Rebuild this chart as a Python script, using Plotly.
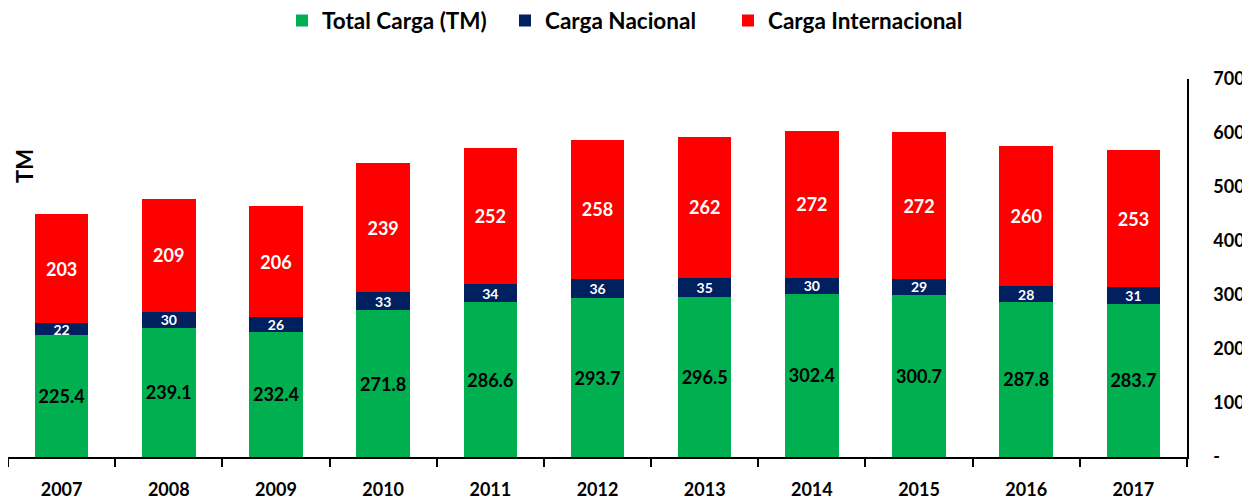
import plotly.graph_objects as go

years = ["2007", "2008", "2009", "2010", "2011", "2012", "2013", "2014", "2015", "2016", "2017"]
total_carga = [225.4, 239.1, 232.4, 271.8, 286.6, 293.7, 296.5, 302.4, 300.7, 287.8, 283.7]
carga_nacional = [22, 30, 26, 33, 34, 36, 35, 30, 29, 28, 31]
carga_internacional = [203, 209, 206, 239, 252, 258, 262, 272, 272, 260, 253]
y_tickvals = [0, 100, 200, 300, 400, 500, 600, 700]
y_ticktext = ["-", "100", "200", "300", "400", "500", "600", "700"]

FONT = "Lato"

fig = go.Figure()
fig.add_trace(go.Bar(
    x=years, y=total_carga, name="Total Carga (TM)", legend="legend",
    marker=dict(color="#00B050", line=dict(width=0)),
    text=[f"{v:.1f}" for v in total_carga], textposition="inside",
    insidetextanchor="middle", constraintext="none", textangle=0,
    textfont=dict(family=FONT, size=18, color="black", weight="bold"),
))
fig.add_trace(go.Bar(
    x=years, y=carga_nacional, name="Carga Nacional", legend="legend2",
    marker=dict(color="#002060", line=dict(width=0)),
    text=[str(v) for v in carga_nacional], textposition="inside",
    insidetextanchor="middle", constraintext="none", textangle=0,
    textfont=dict(family=FONT, size=14, color="white", weight="bold"),
))
fig.add_trace(go.Bar(
    x=years, y=carga_internacional, name="Carga Internacional", legend="legend3",
    marker=dict(color="#FF0000", line=dict(width=0)),
    text=[str(v) for v in carga_internacional], textposition="inside",
    insidetextanchor="middle", constraintext="none", textangle=0,
    textfont=dict(family=FONT, size=18, color="white", weight="bold"),
))

legend_common = dict(
    orientation="h", xref="container", xanchor="left",
    yref="container", y=0.974, yanchor="middle",
    font=dict(family=FONT, size=22.5, color="black", weight="bold"),
    itemwidth=30, bgcolor="rgba(0,0,0,0)",
)

fig.update_layout(
    barmode="stack",
    bargap=0.5,
    width=1250, height=499,
    margin=dict(l=0, r=71, t=71, b=50, autoexpand=False),
    plot_bgcolor="white", paper_bgcolor="white",
    font=dict(family=FONT, color="black"),
    showlegend=True,
    legend=dict(legend_common, x=0.2192),
    legend2=dict(legend_common, x=0.3976),
    legend3=dict(legend_common, x=0.576),
    xaxis=dict(
        type="category", showline=True, linecolor="black", linewidth=1.5,
        ticks="outside", tickson="boundaries", ticklen=8, tickcolor="black", tickwidth=1.5,
        tickfont=dict(family=FONT, size=18, color="black", weight="bold"),
        ticklabelstandoff=16, showgrid=False, automargin=False,
    ),
    yaxis=dict(
        side="right", range=[0, 700], tickvals=y_tickvals, ticktext=y_ticktext,
        showline=True, linecolor="black", linewidth=1.5, showgrid=False,
        ticks="", zeroline=False, automargin=False,
        tickfont=dict(family=FONT, size=18, color="black", weight="bold"),
        ticklabelstandoff=21,
    ),
    annotations=[dict(
        text="TM", xref="paper", yref="paper", x=0.0, y=0.77,
        xanchor="center", yanchor="middle", textangle=-90, showarrow=False,
        xshift=17, font=dict(family=FONT, size=22, color="black", weight="bold"),
    )],
)

fig.write_html("out.html")
